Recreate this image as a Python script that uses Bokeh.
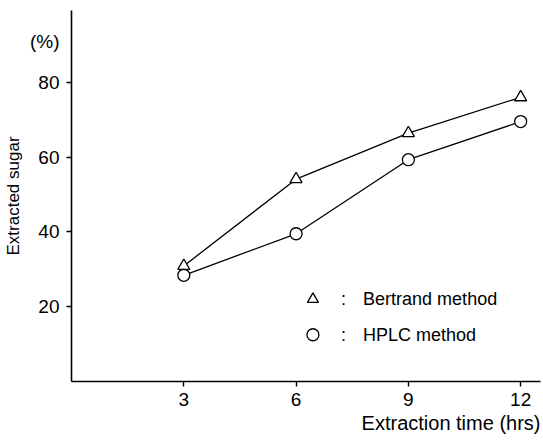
from bokeh.plotting import figure
from bokeh.models import Label, FixedTicker, Range1d, LinearAxis, Title
from bokeh.embed import file_html
from bokeh.resources import INLINE

# Data
hours = [3, 6, 9, 12]
bertrand = [30.9, 54.1, 66.4, 76.0]
hplc = [28.4, 39.5, 59.3, 69.5]
x_ticks = [3, 6, 9, 12]
y_ticks = [20, 40, 60, 80]
unit_tick = 91
legend_labels = ["Bertrand method", "HPLC method"]

FONT = "Liberation Sans"

p = figure(width=541, height=441, output_backend="svg", toolbar_location=None,
           x_range=Range1d(0, 12.53), y_range=Range1d(0, 99.2),
           y_axis_location=None,
           min_border_left=70, min_border_right=1, min_border_top=10, min_border_bottom=60)
p.outline_line_color = None
p.xgrid.visible = False
p.ygrid.visible = False
p.background_fill_color = "white"

# x axis
xa = p.xaxis[0]
xa.ticker = FixedTicker(ticks=x_ticks)
xa.axis_line_color = "black"
xa.axis_line_width = 1.6
xa.major_tick_line_color = "black"
xa.major_tick_line_width = 1.4
xa.major_tick_out = 5
xa.major_tick_in = 0
xa.minor_tick_line_color = None
xa.major_label_text_font = FONT
xa.major_label_text_font_size = "19px"
xa.major_label_text_color = "black"
xa.major_label_standoff = 6

# y axis: ticks and axis line (closest to the frame)
ya_ticks = LinearAxis(ticker=FixedTicker(ticks=y_ticks),
                      major_label_overrides={t: "" for t in y_ticks},
                      axis_line_color="black", axis_line_width=1.6,
                      major_tick_line_color="black", major_tick_line_width=1.4,
                      major_tick_out=5, major_tick_in=0,
                      minor_tick_line_color=None, major_label_standoff=0)
p.add_layout(ya_ticks, "left")

# y axis: labels, unit and title
ya_labels = LinearAxis(ticker=FixedTicker(ticks=y_ticks + [unit_tick]),
                       major_label_overrides={unit_tick: "(%)"},
                       axis_line_color=None, major_tick_line_color=None,
                       minor_tick_line_color=None,
                       major_tick_out=0, major_tick_in=0,
                       major_label_text_font=FONT, major_label_text_font_size="19px",
                       major_label_text_color="black", major_label_standoff=7,
                       axis_label="Extracted sugar", axis_label_text_font=FONT,
                       axis_label_text_font_size="17px", axis_label_text_font_style="normal",
                       axis_label_text_color="black", axis_label_standoff=4)
p.add_layout(ya_labels, "left")

# Lines and markers
p.line(hours, bertrand, line_color="black", line_width=1.3)
p.line(hours, hplc, line_color="black", line_width=1.3)
p.scatter(hours, bertrand, marker="triangle", size=12, fill_color="white",
          line_color="black", line_width=1.3)
p.scatter(hours, hplc, marker="circle", size=12, fill_color="white",
          line_color="black", line_width=1.3)

# Legend (custom)
leg_x, leg_y = 6.45, [22.0, 12.5]
p.scatter([leg_x], [leg_y[0]], marker="triangle", size=11, fill_color="white",
          line_color="black", line_width=1.3)
p.scatter([leg_x], [leg_y[1]], marker="circle", size=12, fill_color="white",
          line_color="black", line_width=1.3)
for yy, txt in zip(leg_y, legend_labels):
    p.add_layout(Label(x=7.2, y=yy, text=":", text_font=FONT, text_font_size="18px",
                       text_color="black", text_baseline="middle", text_align="left"))
    p.add_layout(Label(x=7.79, y=yy, text=txt, text_font=FONT, text_font_size="18px",
                       text_color="black", text_baseline="middle", text_align="left"))

# x axis title
p.add_layout(Title(text="Extraction time (hrs)", align="right", text_font=FONT,
                   text_font_size="20px", text_font_style="normal",
                   text_color="black", standoff=3, offset=0), "below")

open("out.html", "w").write(file_html(p, INLINE))
